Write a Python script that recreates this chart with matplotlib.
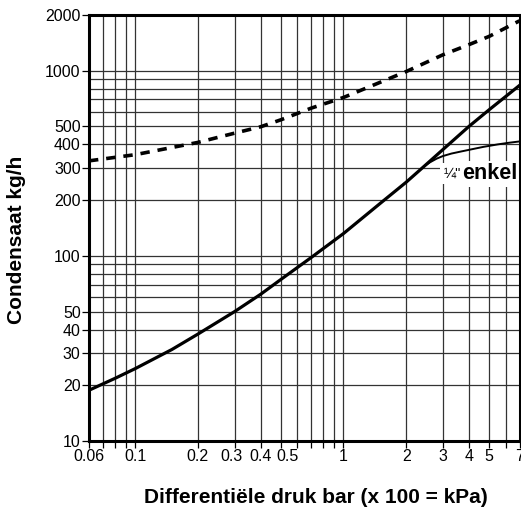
"""Condensaat-capaciteit vs differentiële druk — log/log grafiek"""

import matplotlib
matplotlib.use("Agg")
import matplotlib.pyplot as plt
import matplotlib.ticker as mticker
import matplotlib.transforms as mtransforms

plt.rcParams["font.family"] = ["Liberation Sans", "DejaVu Sans"]

# data
druk_hoofd = [0.06, 0.08, 0.1, 0.15, 0.2, 0.3, 0.4, 0.5, 0.7, 1.0, 1.5,
              2.0, 2.45, 3.0, 4.0, 5.0, 7.0]
cond_hoofd = [18.8, 21.8, 24.6, 31.2, 37.8, 50, 62, 74.5, 98, 132, 192,
              250, 306, 375, 500, 615, 833]

druk_enkel = [2.45, 2.6, 2.8, 3.0, 3.3, 3.7, 4.2, 4.7, 5.5, 6.2, 7.0]
cond_enkel = [306, 320, 335, 346, 357, 367, 378, 388, 400, 408, 415]

druk_max = [0.06, 0.1, 0.2, 0.3, 0.4, 0.5, 0.7, 1.0, 2.0, 3.0, 4.0, 5.0, 7.0]
cond_max = [326, 352, 410, 460, 498, 543, 628, 717, 990, 1219, 1383, 1532, 1860]

x_grid = [0.07, 0.08, 0.09, 0.1, 0.2, 0.3, 0.4, 0.5, 0.6, 0.7, 0.8, 0.9, 1,
          2, 3, 4, 5, 6]
y_grid = [20, 30, 40, 50, 60, 70, 80, 90, 100,
          200, 300, 400, 500, 600, 700, 800, 900, 1000]

x_ticks = [0.06, 0.1, 0.2, 0.3, 0.4, 0.5, 1, 2, 3, 4, 5, 7]
x_labels = ["0.06", "0.1", "0.2", "0.3", "0.4", "0.5", "1", "2", "3", "4", "5", "7"]
x_minor = [0.07, 0.08, 0.09, 0.6, 0.7, 0.8, 0.9, 6]
y_ticks = [10, 20, 30, 40, 50, 100, 200, 300, 400, 500, 1000, 2000]
y_labels = ["10", "20", "30", "40", "50", "100", "200", "300", "400", "500", "1000", "2000"]

W, H = 521, 511
fig = plt.figure(figsize=(W / 100, H / 100), dpi=100)
ax = fig.add_axes([89 / W, (H - 441) / H, 430.5 / W, 426 / H])
ax.set_xscale("log")
ax.set_yscale("log")
ax.set_xlim(0.06, 7)
ax.set_ylim(10, 2000)

# rasterlijnen
for xv in x_grid:
    ax.axvline(xv, color="0.2", lw=0.9, zorder=1)
for yv in y_grid:
    ax.axhline(yv, color="0.2", lw=0.9, zorder=1)

# curves
ax.plot(druk_hoofd, cond_hoofd, color="black", lw=2.3, zorder=3)
ax.plot(druk_enkel, cond_enkel, color="black", lw=1.4, zorder=3)
ax.plot(druk_max, cond_max, color="black", lw=2.6, linestyle=(0, (2.6, 2.2)), zorder=3)

# label
ax.text(3.02, 277, "¼\"", fontsize=10.5, ha="left", va="center", zorder=4,
        bbox=dict(facecolor="white", edgecolor="none", pad=2.5))
ax.text(3.72, 277, "enkel", fontsize=15.5, fontweight="bold", ha="left", va="center",
        zorder=4, bbox=dict(facecolor="white", edgecolor="none", pad=1.5))

# assen
ax.xaxis.set_major_locator(mticker.FixedLocator(x_ticks))
ax.xaxis.set_major_formatter(mticker.FixedFormatter(x_labels))
ax.xaxis.set_minor_locator(mticker.FixedLocator(x_minor))
ax.xaxis.set_minor_formatter(mticker.NullFormatter())
ax.yaxis.set_major_locator(mticker.FixedLocator(y_ticks))
ax.yaxis.set_major_formatter(mticker.FixedFormatter(y_labels))
ax.yaxis.set_minor_locator(mticker.NullLocator())
ax.tick_params(axis="both", which="both", direction="out", length=5, width=0.9,
               labelsize=11.5, pad=1)

# 0.3 en 0.5 iets verschoven zoals in het origineel
fig.canvas.draw()
for lab in ax.get_xticklabels():
    if lab.get_text() == "0.3":
        lab.set_transform(lab.get_transform() + mtransforms.ScaledTranslation(-3 / 100, 0, fig.dpi_scale_trans))
    elif lab.get_text() == "0.5":
        lab.set_transform(lab.get_transform() + mtransforms.ScaledTranslation(7 / 100, 0, fig.dpi_scale_trans))

for sp in ax.spines.values():
    sp.set_linewidth(2.2)
    sp.set_zorder(5)

fig.text(17 / W, 1 - 240 / H, "Condensaat kg/h", rotation=90, ha="center", va="center",
         fontsize=15, fontweight="bold")
fig.text(316 / W, 1 - 497 / H, "Differentiële druk bar (x 100 = kPa)", ha="center",
         va="center", fontsize=15, fontweight="bold")

fig.savefig("out.png", dpi=100)
